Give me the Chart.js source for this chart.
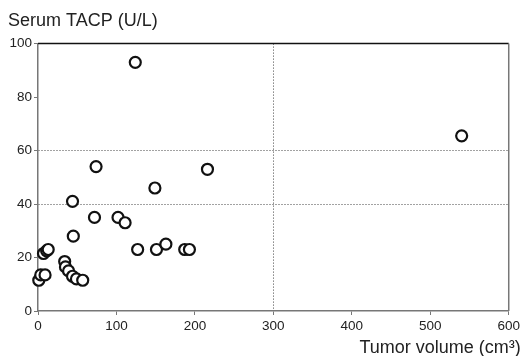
<!DOCTYPE html>
<html lang="en">
<head>
    <meta charset="UTF-8">
    <title>Serum TACP vs tumor volume</title>
    <script src="https://cdn.jsdelivr.net/npm/chart.js"></script>
    <style>
        html, body { margin: 0; padding: 0; background: #fff; }
        .wrap { width: 523px; height: 356px; }
    </style>
</head>
<body>
    <div class="wrap"><canvas id="tacpChart" width="523" height="356"></canvas></div>
    <script>
        // tumor volume (cm3) and serum TACP (U/L)
        var volume = [1, 3.5, 9, 7, 11, 13, 34, 35, 39, 44, 49, 57, 44, 45, 72, 74, 102, 111, 124, 127, 151, 149, 163, 187, 193, 216, 540];
        var tacp   = [11.5, 13.5, 13.5, 21.5, 22.5, 23, 18.5, 16.5, 15, 13, 12, 11.5, 41, 28, 35, 54, 35, 33, 93, 23, 23, 46, 25, 23, 23, 53, 65.5];
        var xTicks = [0, 100, 200, 300, 400, 500, 600];
        var yTicks = [0, 20, 40, 60, 80, 100];
        var yGridAt = [40, 60];
        var xGridAt = [300];
        var xTitle = 'Tumor volume (cm³)';

        var points = volume.map(function(v, i) { return { x: v, y: tacp[i] }; });
        var font = "'Liberation Sans', Arial, sans-serif";

        // top and right frame lines, plus the x axis title that runs past the plot edge
        var frame = {
            id: 'frame',
            afterDraw: function(chart) {
                var a = chart.chartArea, c = chart.ctx;
                c.save();
                c.lineWidth = 1.5;
                c.strokeStyle = '#111';
                c.beginPath();
                c.moveTo(a.left, a.top);
                c.lineTo(a.right, a.top);
                c.stroke();
                c.strokeStyle = '#777';
                c.beginPath();
                c.moveTo(a.right, a.top);
                c.lineTo(a.right, a.bottom);
                c.stroke();
                c.fillStyle = '#222';
                c.font = '18px ' + font;
                c.textAlign = 'right';
                c.textBaseline = 'alphabetic';
                c.fillText(xTitle, a.right + 12, 353);
                c.restore();
            }
        };

        new Chart(document.getElementById('tacpChart'), {
            type: 'scatter',
            data: {
                datasets: [{
                    data: points,
                    clip: false,
                    pointStyle: 'circle',
                    pointRadius: 5.5,
                    pointBorderWidth: 2.2,
                    pointBorderColor: '#111',
                    pointBackgroundColor: '#fff'
                }]
            },
            options: {
                responsive: false,
                animation: false,
                layout: { padding: { left: 8, right: 14, top: 0, bottom: 0 } },
                plugins: {
                    legend: { display: false },
                    tooltip: { enabled: false },
                    title: {
                        display: true,
                        text: 'Serum TACP (U/L)',
                        align: 'start',
                        color: '#222',
                        font: { family: font, size: 18, weight: 'normal' },
                        padding: { top: 10, bottom: 12 }
                    }
                },
                scales: {
                    x: {
                        type: 'linear',
                        min: 0, max: 600,
                        afterBuildTicks: function(s) { s.ticks = xTicks.map(function(v) { return { value: v }; }); },
                        afterFit: function(s) { s.height = 45; },
                        ticks: { color: '#222', font: { family: font, size: 13.5 }, padding: 3, maxRotation: 0 },
                        grid: {
                            color: function(ctx) { return xGridAt.indexOf(ctx.tick && ctx.tick.value) >= 0 ? '#444' : 'rgba(0,0,0,0)'; },
                            tickColor: '#777',
                            tickLength: 4,
                            lineWidth: 1
                        },
                        border: { color: '#777', width: 1.5, dash: [1, 2] }
                    },
                    y: {
                        type: 'linear',
                        min: 0, max: 100,
                        afterBuildTicks: function(s) { s.ticks = yTicks.map(function(v) { return { value: v }; }); },
                        afterFit: function(s) { s.width = 30; },
                        ticks: { color: '#222', font: { family: font, size: 13.5 }, padding: 2 },
                        grid: {
                            color: function(ctx) { return yGridAt.indexOf(ctx.tick && ctx.tick.value) >= 0 ? '#444' : 'rgba(0,0,0,0)'; },
                            tickColor: '#777',
                            tickLength: 4,
                            lineWidth: 1
                        },
                        border: { color: '#777', width: 1.5, dash: [1, 2] }
                    }
                }
            },
            plugins: [frame]
        });
    </script>
</body>
</html>
